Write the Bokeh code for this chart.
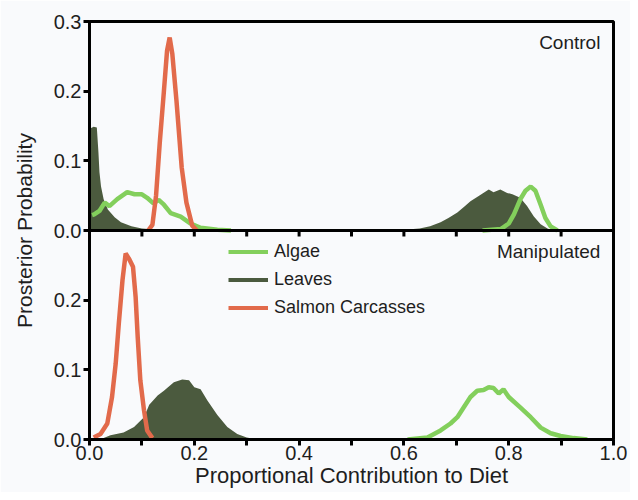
import numpy as np
from bokeh.plotting import figure
from bokeh.models import Range1d, FixedTicker, Span, Label, Legend, LegendItem, PrintfTickFormatter
from bokeh.embed import file_html
from bokeh.resources import INLINE

FONT = "Liberation Sans"

# ---------------- data ----------------
# Control panel (top)
algae_ctrl_x = [0.005, 0.009, 0.019, 0.029, 0.038, 0.053, 0.072, 0.086, 0.100, 0.110, 0.122,
                0.132, 0.142, 0.155, 0.174, 0.193, 0.212, 0.244, 0.270, None,
                0.750, 0.785, 0.800, 0.810, 0.823, 0.832, 0.842, 0.851, 0.861, 0.870, 0.880, 0.893]
algae_ctrl_y = [0.022, 0.023, 0.028, 0.040, 0.035, 0.045, 0.055, 0.052, 0.052, 0.047, 0.039,
                0.044, 0.037, 0.025, 0.020, 0.010, 0.004, 0.001, 0.000, None,
                0.000, 0.002, 0.010, 0.023, 0.046, 0.057, 0.063, 0.057, 0.037, 0.018, 0.006, 0.000]

leaves_ctrl_x = [0.000, 0.008, 0.014, 0.017, 0.019, 0.022, 0.027, 0.035, 0.048, 0.060, 0.080,
                 0.100, 0.130, 0.160, 0.550, 0.600, 0.630, 0.650, 0.670, 0.685, 0.702, 0.715,
                 0.727, 0.742, 0.756, 0.762, 0.771, 0.784, 0.797, 0.807, 0.822, 0.835, 0.848,
                 0.861, 0.874, 0.885]
leaves_ctrl_y = [0.146, 0.149, 0.148, 0.113, 0.084, 0.063, 0.045, 0.030, 0.019, 0.012, 0.006,
                 0.003, 0.001, 0.000, 0.000, 0.001, 0.003, 0.006, 0.012, 0.018, 0.026, 0.034,
                 0.042, 0.049, 0.056, 0.059, 0.055, 0.059, 0.054, 0.052, 0.047, 0.035, 0.020,
                 0.009, 0.003, 0.000]

salmon_ctrl_x = [0.112, 0.120, 0.127, 0.134, 0.142, 0.148, 0.153, 0.158, 0.166, 0.176, 0.185,
                 0.196, 0.205]
salmon_ctrl_y = [0.000, 0.008, 0.050, 0.125, 0.200, 0.258, 0.277, 0.254, 0.186, 0.090, 0.040,
                 0.007, 0.000]

# Manipulated panel (bottom)
algae_man_x = [0.607, 0.645, 0.670, 0.689, 0.702, 0.714, 0.727, 0.740, 0.752, 0.762, 0.771,
               0.781, 0.790, 0.800, 0.822, 0.842, 0.861, 0.880, 0.899, 0.924, 0.950]
algae_man_y = [0.000, 0.003, 0.013, 0.023, 0.032, 0.046, 0.061, 0.070, 0.071, 0.075, 0.074,
               0.066, 0.072, 0.061, 0.046, 0.032, 0.017, 0.009, 0.005, 0.002, 0.000]

leaves_man_x = [0.020, 0.040, 0.065, 0.085, 0.104, 0.114, 0.130, 0.142, 0.161, 0.177, 0.190,
                0.200, 0.212, 0.225, 0.244, 0.263, 0.282, 0.300, 0.320]
leaves_man_y = [0.000, 0.006, 0.010, 0.018, 0.032, 0.050, 0.063, 0.070, 0.082, 0.086, 0.085,
                0.075, 0.072, 0.056, 0.035, 0.018, 0.008, 0.003, 0.000]

salmon_man_x = [0.008, 0.021, 0.034, 0.043, 0.050, 0.056, 0.063, 0.069, 0.075, 0.083, 0.088,
                0.092, 0.097, 0.104, 0.110, 0.120]
salmon_man_y = [0.003, 0.008, 0.023, 0.061, 0.109, 0.167, 0.229, 0.267, 0.260, 0.248, 0.205,
                0.147, 0.085, 0.042, 0.013, 0.002]

series_names = ["Algae", "Leaves", "Salmon Carcasses"]
panel_names = ["Control", "Manipulated"]

x_major = [0.0, 0.2, 0.4, 0.6, 0.8, 1.0]
x_minor = [0.1, 0.3, 0.5, 0.7, 0.9]
# left axis: bottom panel occupies 0-0.3, top panel 0.3-0.6 (shared axis)
y_ticks = [0.0, 0.1, 0.2, 0.3, 0.4, 0.5, 0.6]
y_tick_labels = ["0.0", "0.1", "0.2", "0.0", "0.1", "0.2", "0.3"]

# ---------------- styles ----------------
C_ALGAE = "#83cf5c"
C_LEAVES = "#4b5a3e"
C_SALMON = "#e26a4b"
BG = "#f9fafc"
TXT = "#1e1e1e"

def arr(v):
    return np.array([np.nan if a is None else a for a in v], dtype=float)

p = figure(width=630, height=492, output_backend="svg", toolbar_location=None,
           x_range=Range1d(0, 1), y_range=Range1d(0, 0.6),
           min_border_left=89, min_border_right=17, min_border_top=21, min_border_bottom=53,
           background_fill_color=BG, border_fill_color=BG)
p.extra_y_ranges = {"top": Range1d(-0.3, 0.3)}
p.grid.visible = False
p.outline_line_color = "black"
p.outline_line_width = 3
p.outline_line_alpha = 1

# top panel (Control)
p.varea(x=arr(leaves_ctrl_x), y1=0, y2=arr(leaves_ctrl_y), fill_color=C_LEAVES, y_range_name="top")
p.line(arr(algae_ctrl_x), arr(algae_ctrl_y), line_color=C_ALGAE, line_width=4.5, y_range_name="top")
p.line(arr(salmon_ctrl_x), arr(salmon_ctrl_y), line_color=C_SALMON, line_width=4.5, y_range_name="top")

# bottom panel (Manipulated)
p.varea(x=arr(leaves_man_x), y1=0, y2=arr(leaves_man_y), fill_color=C_LEAVES)
p.line(arr(algae_man_x), arr(algae_man_y), line_color=C_ALGAE, line_width=4.5)
p.line(arr(salmon_man_x), arr(salmon_man_y), line_color=C_SALMON, line_width=4.5)

# separator between panels, with its own outward ticks
p.add_layout(Span(location=y_ticks[3], dimension="width", line_color="black", line_width=3))
sep_ticks = sorted(x_major + x_minor)
tick_len = 0.0086
p.segment(x0=sep_ticks, y0=[y_ticks[3]] * len(sep_ticks), x1=sep_ticks,
          y1=[y_ticks[3] - tick_len] * len(sep_ticks), line_color="black", line_width=3)

# axes
p.xaxis.ticker = FixedTicker(ticks=x_major, minor_ticks=x_minor)
p.xaxis.formatter = PrintfTickFormatter(format="%.1f")
p.xaxis.axis_label = "Proportional Contribution to Diet"
p.yaxis.ticker = FixedTicker(ticks=y_ticks, minor_ticks=[])
p.yaxis.major_label_overrides = {t: l for t, l in zip(y_ticks, y_tick_labels)}
p.yaxis.axis_label = "Prosterior Probability"
for ax in (p.xaxis, p.yaxis):
    ax.axis_line_width = 3
    ax.axis_line_color = "black"
    ax.major_tick_line_width = 3
    ax.minor_tick_line_width = 3
    ax.major_tick_line_color = "black"
    ax.minor_tick_line_color = "black"
    ax.major_tick_out = 6
    ax.major_tick_in = 0
    ax.minor_tick_out = 6
    ax.minor_tick_in = 0
    ax.major_label_text_font = FONT
    ax.major_label_text_font_size = "20px"
    ax.major_label_text_color = TXT
    ax.axis_label_text_font = FONT
    ax.axis_label_text_font_style = "normal"
    ax.axis_label_text_color = TXT
p.xaxis.major_label_standoff = 0
p.yaxis.major_label_standoff = 2
p.xaxis.axis_label_text_font_size = "22px"
p.xaxis.axis_label_standoff = 0
p.yaxis.axis_label_text_font_size = "21px"
p.yaxis.axis_label_standoff = 15

# panel titles
p.add_layout(Label(x=0.975, y=0.27, y_range_name="top", text=panel_names[0], text_align="right",
                   text_baseline="middle", text_font=FONT, text_font_size="19px", text_color=TXT))
p.add_layout(Label(x=0.975, y=0.27, text=panel_names[1], text_align="right",
                   text_baseline="middle", text_font=FONT, text_font_size="19px", text_color=TXT))

# legend (proxy line renderers with no visible data)
proxies = [p.line([np.nan], [np.nan], line_color=c, line_width=4)
           for c in (C_ALGAE, C_LEAVES, C_SALMON)]
legend = Legend(items=[LegendItem(label=n, renderers=[r]) for n, r in zip(series_names, proxies)],
                location=(139, 119), glyph_width=40, glyph_height=25, label_height=25,
                spacing=3, padding=0, margin=0, label_standoff=6,
                label_text_font=FONT, label_text_font_size="18px", label_text_color=TXT,
                border_line_color=None, background_fill_alpha=0)
p.add_layout(legend)

open("out.html", "w").write(file_html(p, INLINE))
